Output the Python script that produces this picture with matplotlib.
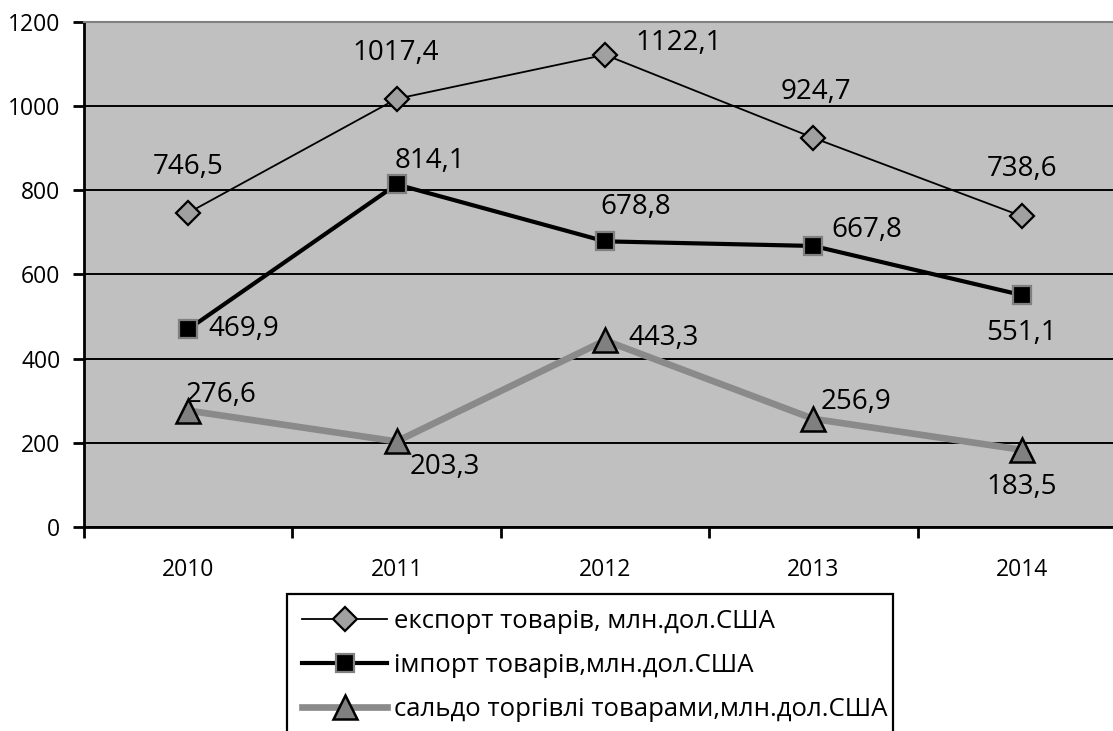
import numpy as np
import matplotlib
matplotlib.use("Agg")
import matplotlib.pyplot as plt

plt.rcParams['font.family'] = ['Open Sans', 'DejaVu Sans']

# data
years = ['2010', '2011', '2012', '2013', '2014']
export_vals = [746.5, 1017.4, 1122.1, 924.7, 738.6]
import_vals = [469.9, 814.1, 678.8, 667.8, 551.1]
balance_vals = [276.6, 203.3, 443.3, 256.9, 183.5]
series_names = ['експорт товарів, млн.дол.США',
                'імпорт товарів,млн.дол.США',
                'сальдо торгівлі товарами,млн.дол.США']

# label offsets in pixels (dx right, dy down) relative to the point
export_off = [(0, -46), (-1, -46), (74, -12), (3, -46), (0, -47)]
import_off = [(56, 0), (33, -23), (31, -34), (53, -16), (0, 38)]
balance_off = [(33, -16), (48, 26), (59, -2), (43, -17), (0, 37)]

fig = plt.figure(figsize=(11.13, 7.31), dpi=100)
# plot area runs a bit past the right edge, as in the original
ax = fig.add_axes([84 / 1113, 1 - 527 / 731, 1042 / 1113, 505 / 731])
ax.set_facecolor('#c0c0c0')

x = np.arange(len(years))

l1, = ax.plot(x, export_vals, color='black', lw=1.3, marker='D', ms=12,
              mfc='#a0a0a0', mec='black', mew=1.6, zorder=3)
l2, = ax.plot(x, import_vals, color='black', lw=3.0, marker='s', ms=12.5,
              mfc='black', mec='#808080', mew=1.6, zorder=4)
l3, = ax.plot(x, balance_vals, color='#8a8a8a', lw=4.8, marker='^', ms=17,
              mfc='#808080', mec='black', mew=1.8, zorder=5)


def fmt(v):
    return f'{v:.1f}'.replace('.', ',')


for vals, offs in [(export_vals, export_off), (import_vals, import_off),
                   (balance_vals, balance_off)]:
    for xi, v, (dx, dy) in zip(x, vals, offs):
        ax.annotate(fmt(v), (xi, v), xytext=(dx * 0.72, -dy * 0.72),
                    textcoords='offset points', ha='center', va='center',
                    fontsize=20, color='black', zorder=6)

ax.set_xlim(-0.5, 4.5)
ax.set_ylim(0, 1200)
ax.set_yticks(np.arange(0, 1201, 200))
ax.yaxis.grid(True, color='black', lw=1.4)
ax.set_axisbelow(True)

ax.set_xticks(x)
ax.set_xticklabels(years)
ax.set_xticks(np.arange(-0.5, 5, 1.0), minor=True)
ax.tick_params(axis='x', which='major', length=0, pad=22, labelsize=16.5)
ax.tick_params(axis='x', which='minor', length=8, width=2, direction='out')
ax.tick_params(axis='y', length=8, width=2, direction='out', pad=9,
               labelsize=16.5)

for s in ['left', 'bottom']:
    ax.spines[s].set_color('black')
    ax.spines[s].set_linewidth(2)
ax.spines['top'].set_color('#808080')
ax.spines['top'].set_linewidth(1.5)
ax.spines['right'].set_visible(False)

# legend box sits under the axis and runs off the bottom edge
leg = fig.legend([l1, l2, l3], series_names, loc='upper left',
                 bbox_to_anchor=(287 / 1113, 1 - 594 / 731, 606 / 1113, 0),
                 mode='expand', fontsize=18.5, frameon=True, fancybox=False,
                 edgecolor='black', framealpha=1, borderaxespad=0,
                 handlelength=3.3, handletextpad=0.25, labelspacing=0.74,
                 borderpad=0.6)
leg.get_frame().set_linewidth(1.6)

fig.savefig('out.png', dpi=100)
